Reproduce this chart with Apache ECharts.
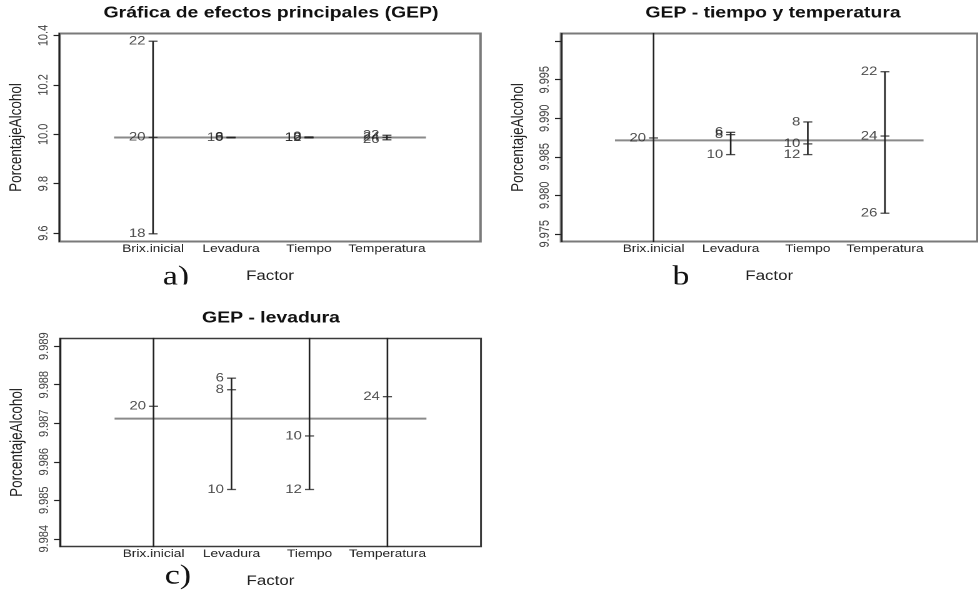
<!DOCTYPE html>
<html><head><meta charset="utf-8">
<script src="https://cdn.jsdelivr.net/npm/echarts@6/dist/echarts.min.js"></script>
<style>
html,body{margin:0;padding:0;background:#fff;overflow:hidden;width:978px;height:595px}
#c{position:absolute;left:0;top:0;height:595px;transform-origin:0 0;}
</style></head><body><div id="c"></div><script>
// ---- data ----
const factors = ['Brix.inicial', 'Levadura', 'Tiempo', 'Temperatura'];
const brixLevels = ['18', '20', '22'];
const brixMeans = [9.5972, 9.98744, 10.37672];
const levaduraLevels = ['6', '8', '10'];
const levaduraMeans = [9.98817, 9.98787, 9.98528];
const tiempoLevels = ['8', '10', '12'];
const tiempoMeans = [9.98952, 9.98667, 9.98528];
const temperaturaLevels = ['22', '24', '26'];
const temperaturaMeans = [9.99604, 9.98769, 9.97767];
const grandMean = 9.98712;
const panelTitles = ['Gráfica de efectos principales (GEP)', 'GEP - tiempo y temperatura', 'GEP - levadura'];
const panelTags = ['a)', 'b', 'c)'];
const yTicksA = [9.6, 9.8, 10.0, 10.2, 10.4];
const yTickLabelsA = ['9.6', '9.8', '10.0', '10.2', '10.4'];
const yTicksB = [9.975, 9.980, 9.985, 9.990, 9.995, 10.000];
const yTickLabelsB = ['9.975', '9.980', '9.985', '9.990', '9.995', ''];
const yTicksC = [9.984, 9.985, 9.986, 9.987, 9.988, 9.989];
const yTickLabelsC = ['9.984', '9.985', '9.986', '9.987', '9.988', '9.989'];
const yLimits = [[9.566, 10.408], [9.974, 10.001], [9.9838, 9.9892]];
const yTitle = 'PorcentajeAlcohol';
const xTitle = 'Factor';

const factorLevels = [brixLevels, levaduraLevels, tiempoLevels, temperaturaLevels];
const factorMeans = [brixMeans, levaduraMeans, tiempoMeans, temperaturaMeans];
const yTicks = [yTicksA, yTicksB, yTicksC];
const yTickLabels = [yTickLabelsA, yTickLabelsB, yTickLabelsC];

// ---- layout (reference pixels; x compressed by S, then stretched by CSS) ----
const S = 1.25;
const X = v => v / S;
const FONT = '"Liberation Sans", Arial, Helvetica, sans-serif';
const SERIF = '"Liberation Serif", "Times New Roman", serif';
const el = document.getElementById('c');
el.style.width = (978 / S) + 'px';
el.style.transform = 'scaleX(' + S + ')';

const boxes = [
  {left: 59.5, top: 33.5, width: 421, height: 208, border: '#7a7a7a', bw: 2},
  {left: 561, top: 33.5, width: 421, height: 208, border: '#7a7a7a', bw: 2},
  {left: 60, top: 338.5, width: 421, height: 208, border: '#3a3a3a', bw: 1.5}
];
const titlePos = [[271, 13], [773, 13], [271, 318]];
const tagPos = [[176, 291], [681, 291], [178, 590]];

const grids = [], xAxes = [], yAxes = [], series = [];
boxes.forEach((b, p) => {
  grids.push({left: X(b.left), top: b.top, width: X(b.width), height: b.height,
    show: true, borderColor: b.border, borderWidth: b.bw, backgroundColor: 'transparent'});
  xAxes.push({type: 'value', gridIndex: p, min: -0.2, max: 5.2,
    axisLine: {show: false, onZero: false}, axisTick: {show: false}, splitLine: {show: false},
    axisLabel: {customValues: [1, 2, 3, 4], formatter: v => factors[Math.round(v) - 1],
      margin: 2, fontSize: 11, color: '#222', fontFamily: FONT},
    name: xTitle, nameLocation: 'middle', nameGap: 28,
    nameTextStyle: {fontSize: 13.5, color: '#222', fontFamily: FONT}});
  const ticks = yTicks[p], labs = yTickLabels[p];
  yAxes.push({type: 'value', gridIndex: p, min: yLimits[p][0], max: yLimits[p][1],
    axisLine: {show: true, onZero: false, lineStyle: {color: '#222', width: 1.2}},
    axisTick: {show: true, customValues: ticks, length: X(6), lineStyle: {color: '#222', width: 1.2}},
    splitLine: {show: false},
    axisLabel: {customValues: ticks, rotate: 90, margin: X(9),
      formatter: v => { const k = ticks.findIndex(t => Math.abs(t - v) < 1e-9); return k >= 0 ? labs[k] : ''; },
      fontSize: 11, color: '#444', fontFamily: FONT},
    name: yTitle, nameLocation: 'middle', nameRotate: 90, nameGap: X(34),
    nameTextStyle: {fontSize: 13.5, color: '#222', fontFamily: FONT}});
  series.push({type: 'line', xAxisIndex: p, yAxisIndex: p, silent: true, z: 1,
    data: [[0.5, grandMean], [4.5, grandMean]], symbol: 'none',
    lineStyle: {color: '#8a8a8a', width: 2}});
  factorMeans.forEach((m, i) => {
    series.push({type: 'line', xAxisIndex: p, yAxisIndex: p, silent: true, z: 2, clip: true,
      data: [[i + 1, Math.min(...m)], [i + 1, Math.max(...m)]], symbol: 'none',
      lineStyle: {color: '#222', width: 1.3}});
    const pts = m.map((v, k) => ({value: [i + 1, v], name: factorLevels[i][k]}))
      .filter(d => d.value[1] >= yLimits[p][0] && d.value[1] <= yLimits[p][1]);
    series.push({type: 'scatter', xAxisIndex: p, yAxisIndex: p, silent: true, z: 3,
      data: pts, symbol: 'rect', symbolSize: [X(9), 1.3], itemStyle: {color: '#222'},
      label: {show: true, position: 'left', distance: X(3), formatter: d => d.name,
        fontSize: 12, color: '#222', fontFamily: FONT}});
  });
});

const graphic = [];
panelTitles.forEach((t, p) => {
  graphic.push({type: 'text', x: X(titlePos[p][0]), y: titlePos[p][1], z: 50,
    style: {text: t, font: 'bold 15.5px ' + FONT, fill: '#111',
      textAlign: 'center', textVerticalAlign: 'middle', align: 'center', verticalAlign: 'middle'}});
});
panelTags.forEach((t, p) => {
  graphic.push({type: 'text', x: X(tagPos[p][0]), y: tagPos[p][1], z: 50,
    style: {text: t, font: '27px ' + SERIF, fill: '#111',
      textAlign: 'center', textVerticalAlign: 'bottom', align: 'center', verticalAlign: 'bottom'}});
});
graphic.push({type: 'rect', z: 100, shape: {x: X(150), y: 284.5, width: X(55), height: 16}, style: {fill: '#fff'}});
graphic.push({type: 'rect', z: 100, shape: {x: X(660), y: 284.5, width: X(45), height: 16}, style: {fill: '#fff'}});

const chart = echarts.init(el, null, {renderer: 'canvas', devicePixelRatio: 2});
chart.setOption({animation: false, backgroundColor: '#fff',
  grid: grids, xAxis: xAxes, yAxis: yAxes, series: series, graphic: graphic});
</script></body></html>
